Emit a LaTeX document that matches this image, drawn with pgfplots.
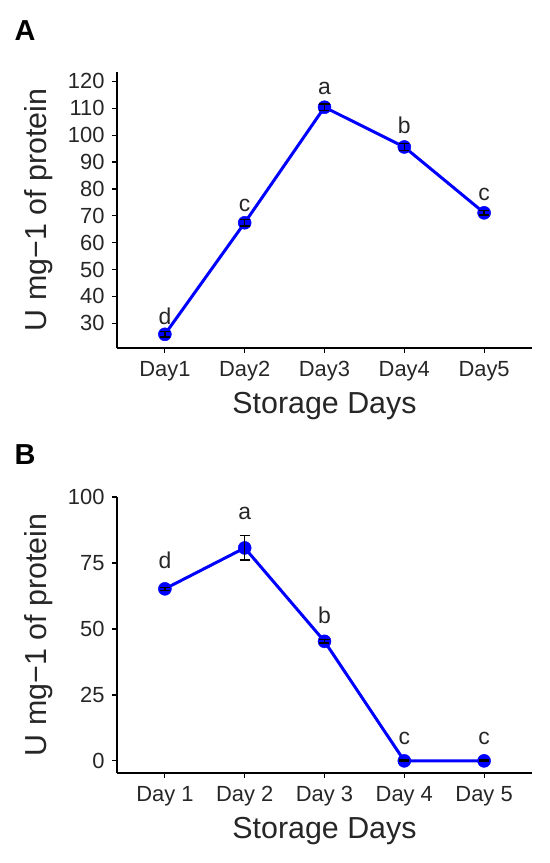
\documentclass[border=0pt]{standalone}
\usepackage{fontspec}
\setmainfont{Liberation Sans}
\usepackage{pgfplots}
\pgfplotsset{compat=1.18}
\usepackage{pgfplotstable}
\definecolor{lineblue}{RGB}{0,0,255}

\pgfplotstableread{
x y err
1 25.9 1.0
2 67.4 1.2
3 110.4 1.2
4 95.6 1.2
5 71.1 0.8
}\dataA
\pgfplotstableread{
x y lab
1 29.4 d
2 71.5 c
3 115.0 a
4 100.5 b
5 75.8 c
}\labA
\pgfplotstableread{
x y err
1 65.2 0.6
2 80.7 4.6
3 45.3 0.6
4 0.0 0.3
5 0.0 0.3
}\dataB
\pgfplotstableread{
x y lab
1 72.8 d
2 91.4 a
3 51.9 b
4 6.3 c
5 6.3 c
}\labB

\pgfplotsset{
  myaxis/.style={
    scale only axis,
    width=415bp, height=276bp,
    xmin=0.4, xmax=5.6,
    axis x line*=bottom, axis y line*=left,
    axis line style={-, black, line width=1.4bp},
    tick align=outside,
    major tick length=5bp,
    tick style={black, line width=1.2bp},
    xtick={1,2,3,4,5},
    /pgf/number format/assume math mode=true,
    ticklabel style={font=\fontsize{22}{24}\selectfont, text=black!85},
    xticklabel style={yshift=-5bp},
    yticklabel style={xshift=-4bp},
    xlabel={Storage Days},
    ylabel={U mg\char"2212 1 of protein},
    label style={font=\fontsize{30.5}{32}\selectfont, text=black!85},
    xlabel style={yshift=-4bp},
    ylabel style={yshift=8bp},
    clip=false,
    clip marker paths=true,
  },
  lineplot/.style={lineblue, line width=3bp, mark=*, mark size=6.5bp,
    mark options={fill=lineblue, draw=lineblue, line width=0.5bp}},
  errplot/.style={draw=none, mark=none, forget plot,
    error bars/.cd, y dir=both, y explicit,
    error bar style={draw=black, line width=1.4bp},
    error mark options={rotate=90, draw=black, mark size=5bp, line width=1.4bp}},
  labplot/.style={draw=none, mark=none, nodes near coords, point meta=explicit symbolic,
    every node near coord/.style={anchor=base, inner sep=0pt, font=\fontsize{23}{24}\selectfont, text=black!85}},
}

\begin{document}
\begin{tikzpicture}
\path[use as bounding box] (0bp,0bp) rectangle (550bp,-863bp);

\begin{axis}[myaxis, at={(117bp,-348bp)}, anchor=south west,
  ymin=20.8, ymax=123.5, ytick={30,40,...,120},
  xticklabels={Day1,Day2,Day3,Day4,Day5}]
\addplot[lineplot] table[x=x,y=y] {\dataA};
\addplot[errplot] table[x=x,y=y,y error=err] {\dataA};
\addplot[labplot] table[x=x,y=y,meta=lab] {\labA};
\end{axis}
\node[font=\fontsize{29}{30}\selectfont\bfseries] at (25bp,-31bp) {A};

\begin{axis}[myaxis, at={(117bp,-773bp)}, anchor=south west,
  ymin=-4.6, ymax=100, ytick={0,25,50,75,100},
  xticklabels={Day 1,Day 2,Day 3,Day 4,Day 5}]
\addplot[lineplot] table[x=x,y=y] {\dataB};
\addplot[errplot] table[x=x,y=y,y error=err] {\dataB};
\addplot[labplot] table[x=x,y=y,meta=lab] {\labB};
\end{axis}
\node[font=\fontsize{29}{30}\selectfont\bfseries] at (25bp,-455bp) {B};
\end{tikzpicture}
\end{document}
